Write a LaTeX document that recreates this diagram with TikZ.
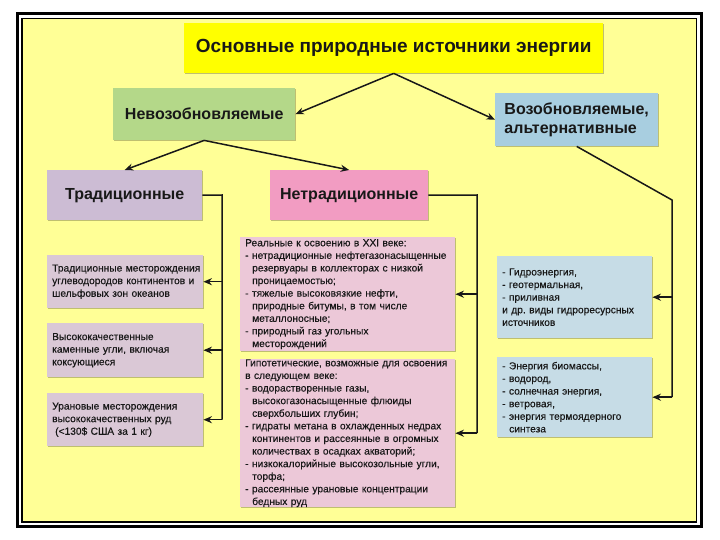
\documentclass[tikz,border=0pt]{standalone}
\usepackage{fontspec}
\setmainfont{Liberation Sans}
\newfontfamily\hfont{Liberation Sans}
\newfontfamily\sfont[FakeBold=0.35]{Liberation Sans}
\usetikzlibrary{arrows.meta,shadows}
\definecolor{bgyellow}{RGB}{255,255,150}
\definecolor{titleyellow}{RGB}{255,255,0}
\definecolor{greenbox}{RGB}{180,216,137}
\definecolor{bluehead}{RGB}{168,206,224}
\definecolor{bluesub}{RGB}{198,220,230}
\definecolor{lilachead}{RGB}{204,188,212}
\definecolor{lilacsub}{RGB}{218,200,214}
\definecolor{pinkhead}{RGB}{242,156,194}
\definecolor{pinksub}{RGB}{236,200,216}
\definecolor{ink}{RGB}{24,24,24}
\tikzset{
  boxbase/.style={anchor=north west, inner ysep=0pt, draw=none,
    drop shadow={shadow xshift=1.2pt, shadow yshift=-1.2pt, fill=black, opacity=0.25}},
  headbox/.style={boxbase, font=\hfont\bfseries\fontsize{16}{18.5}\selectfont, text=ink, align=center},
  subbox/.style={boxbase, inner xsep=5pt, font=\sfont\fontsize{10.2}{12.6}\selectfont, text=ink, align=left},
  link/.style={draw=ink, line width=1.5pt},
  arr/.style={link, -{Stealth[length=8.5pt,width=7pt]}}
}
\newcommand{\ind}{\hspace*{7pt}}
\begin{document}
\begin{tikzpicture}[x=1pt,y=-1pt]
\useasboundingbox (0,0) rectangle (720,540);
\fill[white] (0,0) rectangle (720,540);
\fill[bgyellow] (22,18.5) rectangle (696.5,522);
\draw[line width=3pt] (17,14) rectangle (701.5,526.5);
\draw[line width=1.2pt] (22,18.5) rectangle (696.5,522);

% title
\node[boxbase, fill=titleyellow, minimum width=419pt, minimum height=50pt,
  font=\hfont\bfseries\fontsize{19}{23}\selectfont, text=ink]
  (title) at (184,23) {Основные природные источники энергии};

% level 2
\node[headbox, fill=greenbox, minimum width=182pt, minimum height=52pt] (nv) at (113,88) {Невозобновляемые};
\node[headbox, fill=bluehead, minimum width=163pt, minimum height=53pt, align=left] (vz) at (495,93) {Возобновляемые,\\альтернативные};

% level 3
\node[headbox, fill=lilachead, minimum width=155pt, minimum height=50pt] (tr) at (47,170) {Традиционные};
\node[headbox, fill=pinkhead, minimum width=158pt, minimum height=50pt] (nt) at (270,170) {Нетрадиционные};

% traditional sub boxes
\node[subbox, fill=lilacsub, minimum width=156pt, text width=146pt, minimum height=53pt] (t1) at (47,255)
 {\mbox{Традиционные месторождения}\\\mbox{углеводородов континентов и}\\шельфовых зон океанов};
\node[subbox, fill=lilacsub, minimum width=156pt, text width=146pt, minimum height=54pt] (t2) at (47,323)
 {Высококачественные\\каменные угли, включая\\коксующиеся};
\node[subbox, fill=lilacsub, minimum width=156pt, text width=146pt, minimum height=53pt] (t3) at (47,393)
 {Урановые месторождения\\высококачественных руд\\\hspace*{3pt}(<130\$ США за 1 кг)};

% nontraditional sub boxes
\node[subbox, fill=pinksub, minimum width=215pt, text width=205pt, minimum height=114pt] (pa) at (240,237)
 {Реальные к освоению в XXI веке:\\
  \mbox{- нетрадиционные нефтегазонасыщенные}\\
  \ind резервуары в коллекторах с низкой\\
  \ind проницаемостью;\\
  - тяжелые высоковязкие нефти,\\
  \ind природные битумы, в том числе\\
  \ind металлоносные;\\
  - природный газ угольных\\
  \ind месторождений};
\node[subbox, fill=pinksub, minimum width=215pt, text width=205pt, minimum height=148pt] (pb) at (240,359)
 {\mbox{Гипотетические, возможные для освоения}\\
  в следующем веке:\\
  - водорастворенные газы,\\
  \ind высокогазонасыщенные флюиды\\
  \ind сверхбольших глубин;\\
  \mbox{- гидраты метана в охлажденных недрах}\\
  \ind\mbox{континентов и рассеянные в огромных}\\
  \ind\mbox{количествах в осадках акваторий;}\\
  \mbox{- низкокалорийные высокозольные угли,}\\
  \ind торфа;\\
  - рассеянные урановые концентрации\\
  \ind бедных руд};

% renewable sub boxes
\node[subbox, fill=bluesub, minimum width=155pt, text width=145pt, minimum height=82pt] (bc) at (497,256)
 {- Гидроэнергия,\\- геотермальная,\\- приливная\\и др.\ виды гидроресурсных\\источников};
\node[subbox, fill=bluesub, minimum width=155pt, text width=145pt, minimum height=80pt] (bd) at (497,357)
 {- Энергия биомассы,\\- водород,\\- солнечная энергия,\\- ветровая,\\- энергия термоядерного\\\ind синтеза};

% connectors
\draw[arr] (title.south) -- (nv.east);
\draw[arr] (title.south) -- (vz.west);
\draw[arr] (nv.south) -- (tr.north);
\draw[arr] (nv.south) -- (nt.north);

\coordinate (tv) at (222,195);
\draw[link] (tr.east) -- (tv) -- (tv |- t3.east);
\draw[arr] (tv |- t1.east) -- (t1.east);
\draw[arr] (tv |- t2.east) -- (t2.east);
\draw[arr] (tv |- t3.east) -- (t3.east);

\coordinate (nvv) at (477,195);
\draw[link] (nt.east) -- (nvv) -- (nvv |- pb.east);
\draw[arr] (nvv |- pa.east) -- (pa.east);
\draw[arr] (nvv |- pb.east) -- (pb.east);

\coordinate (rv) at (672,200);
\draw[link] (vz.south) -- (rv) -- (rv |- bd.east);
\draw[arr] (rv |- bc.east) -- (bc.east);
\draw[arr] (rv |- bd.east) -- (bd.east);
\end{tikzpicture}
\end{document}
